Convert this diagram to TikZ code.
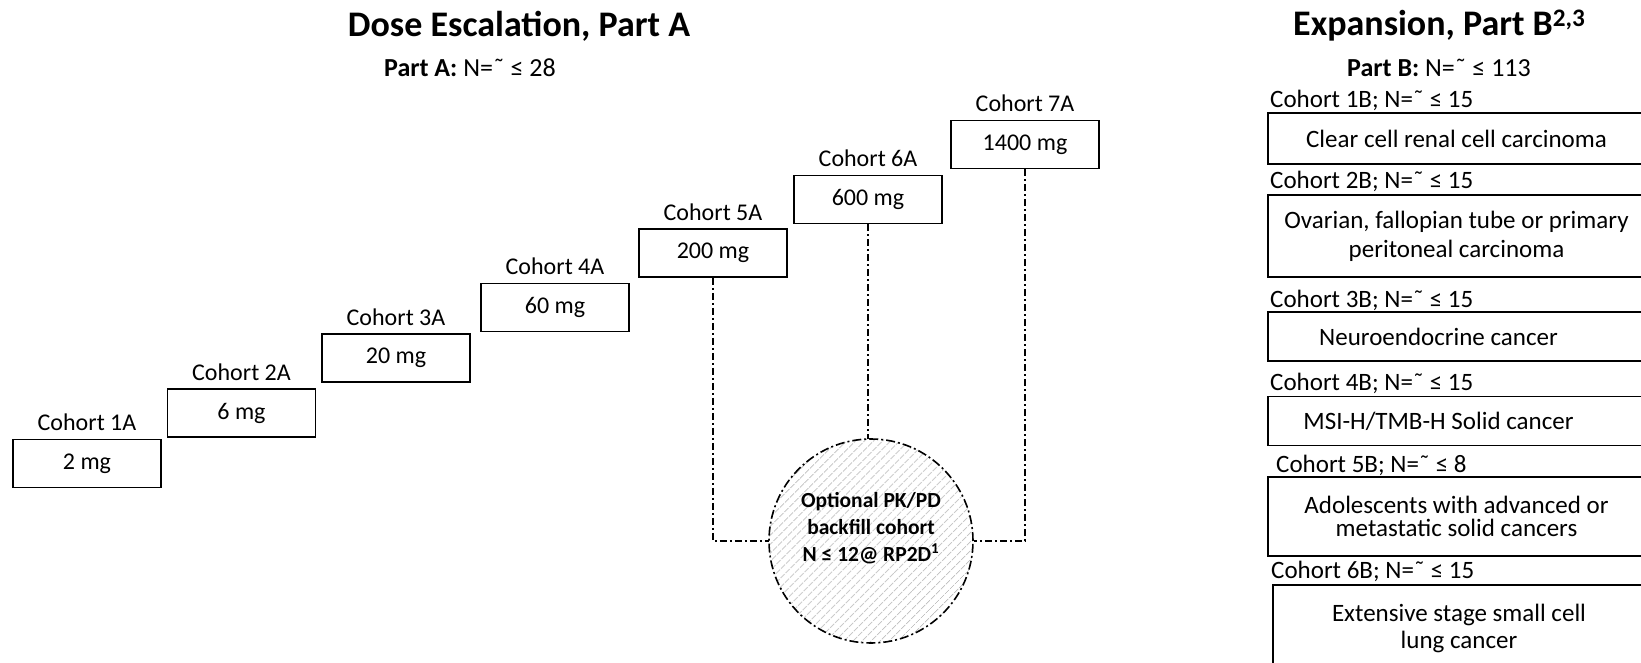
\documentclass[tikz,border=0pt]{standalone}
\usepackage{fontspec}
\setmainfont{Carlito}
\usetikzlibrary{patterns.meta}
\begin{document}
\begin{tikzpicture}[x=1pt,y=-1pt,
  box/.style={draw, line width=1.6pt, minimum width=148pt, minimum height=48pt, inner sep=0pt, font=\fontsize{24}{28}\selectfont},
  lbl/.style={font=\fontsize{24}{28}\selectfont, anchor=base, inner sep=0pt},
  rlbl/.style={font=\fontsize{25}{29}\selectfont, anchor=base west, inner sep=0pt},
  rbox/.style={draw, line width=1.6pt, minimum width=377pt, inner sep=0pt, align=center, font=\fontsize{25}{29}\selectfont},
  title/.style={font=\fontsize{36}{40}\selectfont\bfseries, anchor=base, inner sep=0pt},
  sub/.style={font=\fontsize{26}{30}\selectfont, anchor=base, inner sep=0pt},
  conn/.style={line width=1.4pt, dash pattern=on 7pt off 3pt on 2pt off 3pt},
  backfill/.style={circle, minimum size=204pt, inner sep=0pt, line width=1.6pt,
    dash pattern=on 9pt off 3pt on 2pt off 3pt,
    pattern={Lines[angle=45, distance=6.5pt, line width=1pt]}, pattern color=gray!55},
  ctext/.style={font=\fontsize{21.5}{27}\selectfont\bfseries, align=center, inner sep=0pt}
]
\useasboundingbox (0,0) rectangle (1641,663);
\clip (0,0) rectangle (1641,663);
\fill[white] (0,0) rectangle (1641,663);

% titles
\node[title] (tA) at (519,37) {Dose Escalation, Part A};
\node[sub] (sA) at (470,77) {\textbf{Part A:} N=˜ ≤ 28};
\node[title, anchor=base west] (tB) at (1293,36) {Expansion, Part B\textsuperscript{2,3}};
\node[sub] (sB) at (1439,77) {\textbf{Part B:} N=˜ ≤ 113};

% dose escalation boxes
\node[box] (b1) at (87,463.5) {2 mg};
\node[box] (b2) at (241.5,413) {6 mg};
\node[box] (b3) at (396,358) {20 mg};
\node[box] (b4) at (555,307.5) {60 mg};
\node[box] (b5) at (713,253) {200 mg};
\node[box] (b6) at (868,199.5) {600 mg};
\node[box] (b7) at (1025,144.5) {1400 mg};

\node[lbl] (l1) at ([yshift=8pt]b1.north) {Cohort 1A};
\node[lbl] (l2) at ([yshift=8pt]b2.north) {Cohort 2A};
\node[lbl] (l3) at ([yshift=8pt]b3.north) {Cohort 3A};
\node[lbl] (l4) at ([yshift=8pt]b4.north) {Cohort 4A};
\node[lbl] (l5) at ([yshift=8pt]b5.north) {Cohort 5A};
\node[lbl] (l6) at ([yshift=8pt]b6.north) {Cohort 6A};
\node[lbl] (l7) at ([yshift=8pt]b7.north) {Cohort 7A};

% backfill circle
\node[backfill, draw] (circ) at (871,541) {};
\node[ctext] (ct) at (871,528) {Optional PK/PD\\backfill cohort\\N ≤ 12@ RP2D\textsuperscript{1}};

\draw[conn] (b5.south) |- (circ.west);
\draw[conn] (b6.south) -- (b6.south |- circ.north);
\draw[conn] (b7.south) |- (circ.east);

% expansion boxes
\node[rbox, minimum height=51pt] (r1) at (1456.5,138.5) {Clear cell renal cell carcinoma};
\node[rbox, minimum height=82pt] (r2) at (1456.5,236) {Ovarian, fallopian tube or primary\\peritoneal carcinoma};
\node[rbox, minimum height=49pt] (r3) at (1456.5,336.5) {Neuroendocrine cancer\hspace*{36pt}};
\node[rbox, minimum height=49pt] (r4) at (1456.5,421) {MSI-H/TMB-H Solid cancer\hspace*{36pt}};
\node[rbox, minimum height=79pt, font=\fontsize{25}{23}\selectfont] (r5) at (1456.5,516.5) {Adolescents with advanced or\\metastatic solid cancers};
\node[rbox, minimum height=105pt, minimum width=372pt, font=\fontsize{25}{27}\selectfont] (r6) at (1459,637.5) {\raisebox{0pt}{}\\[-62pt]Extensive stage small cell\\lung cancer};

\node[rlbl] (k1) at (1270,108) {Cohort 1B; N=˜ ≤ 15};
\node[rlbl] (k2) at (1270,189) {Cohort 2B; N=˜ ≤ 15};
\node[rlbl] (k3) at (1270,307) {Cohort 3B; N=˜ ≤ 15};
\node[rlbl] (k4) at (1270,390) {Cohort 4B; N=˜ ≤ 15};
\node[rlbl] (k5) at (1276,472) {Cohort 5B; N=˜ ≤ 8};
\node[rlbl] (k6) at (1271,578) {Cohort 6B; N=˜ ≤ 15};
\end{tikzpicture}
\end{document}
